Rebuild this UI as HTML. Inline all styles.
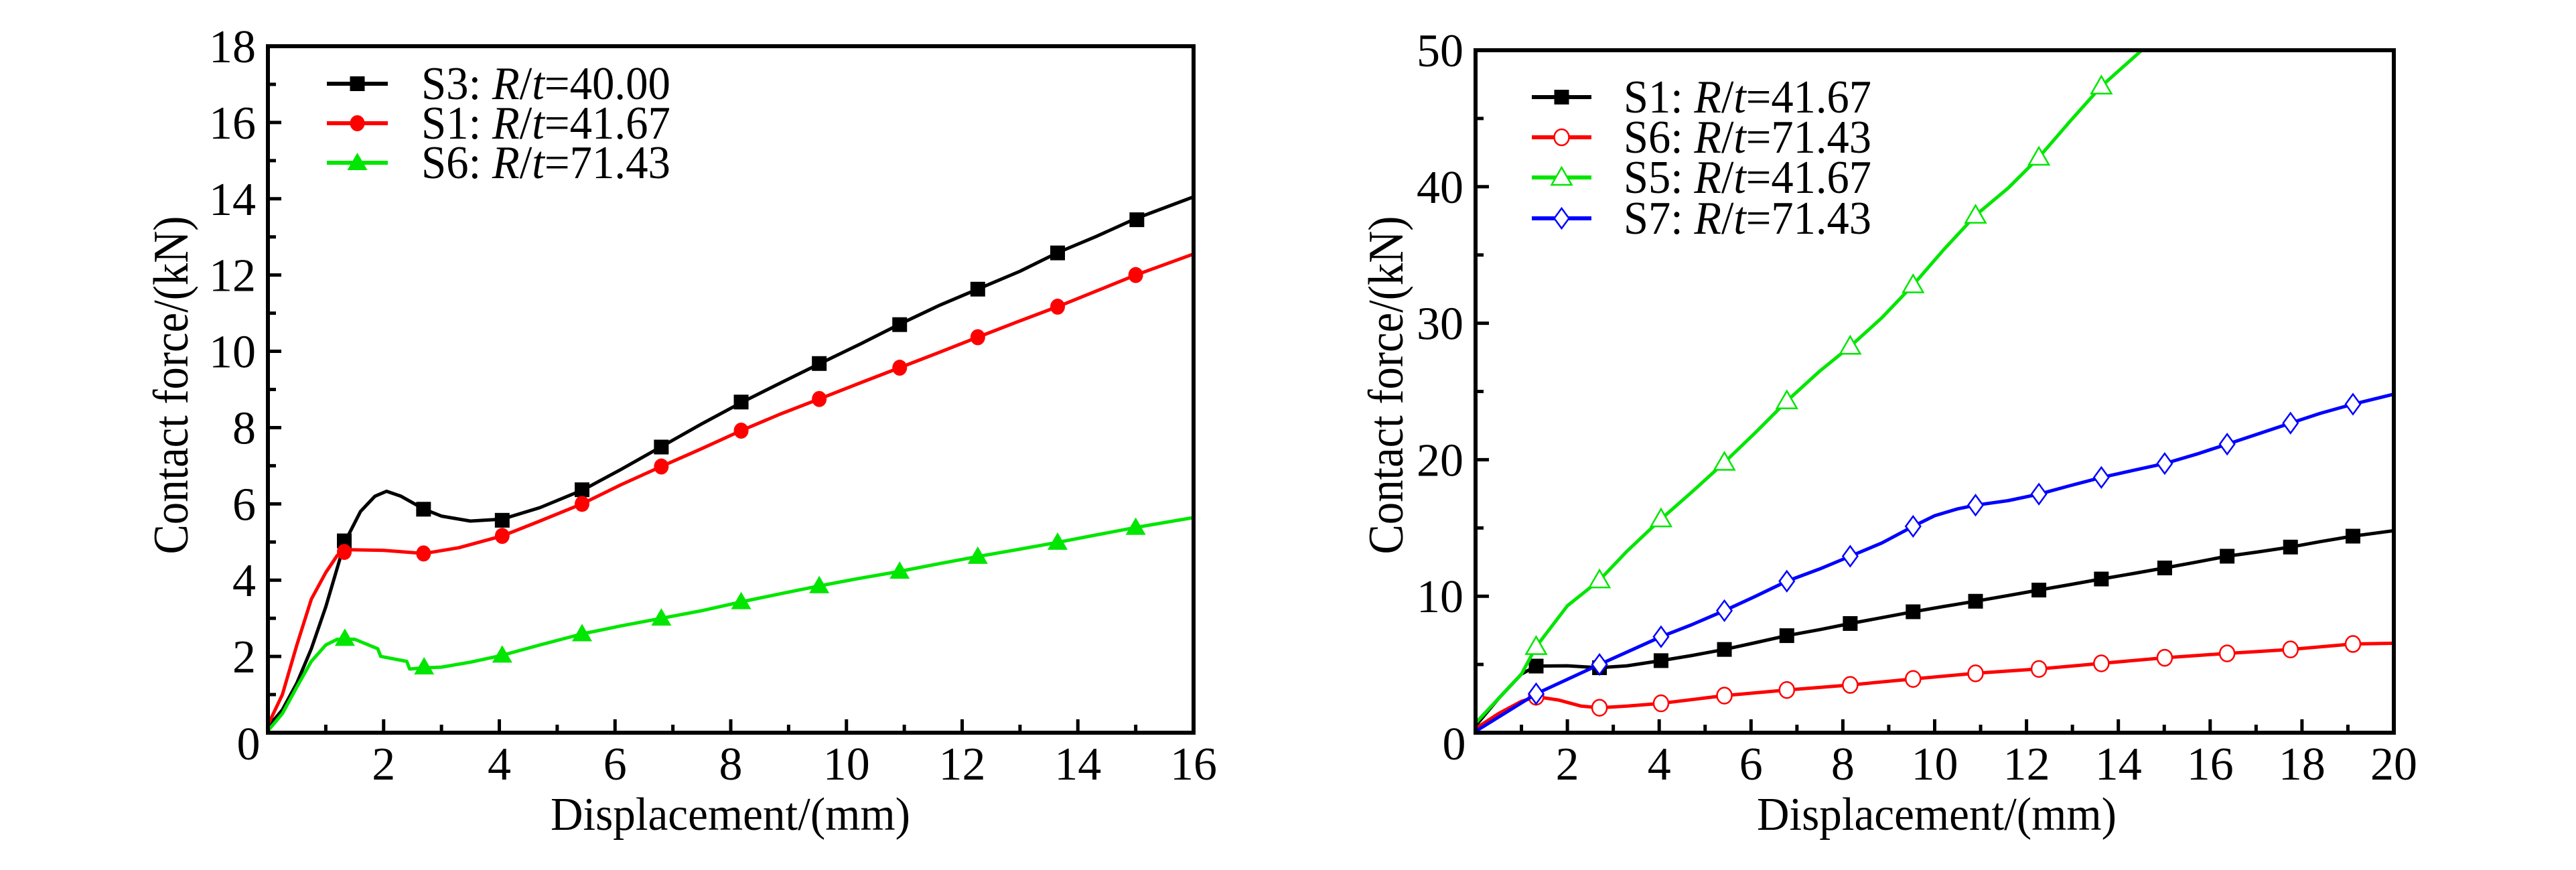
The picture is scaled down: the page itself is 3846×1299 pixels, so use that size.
<!DOCTYPE html>
<html><head><meta charset="utf-8">
<style>
html,body{margin:0;padding:0;background:#fff;}
svg{display:block;font-family:"Liberation Serif","DejaVu Serif","Noto Serif CJK SC",serif;}
svg text, svg tspan{font-family:"Liberation Serif","DejaVu Serif","Noto Serif CJK SC",serif !important;fill:#000;}
</style></head>
<body>
<svg id="fig" xmlns="http://www.w3.org/2000/svg" width="3846" height="1299" viewBox="0 0 3846 1299">
<rect x="0" y="0" width="3846" height="1299" fill="#fff"/>
<g id="left"></g>
<g id="right"></g>
</svg>
<script>
// ---------- LEFT CHART DATA ----------
const L_s3X = [0,0.25,0.5,0.75,1.0,1.33,1.6,1.85,2.05,2.3,2.7,3.0,3.5,4.05,4.7,5.45,6.1,6.8,7.5,8.2,8.9,9.57,10.25,10.93,11.6,12.3,13.0,13.67,14.3,15.0,16];
const L_s3Y = [0.15,0.6,1.3,2.2,3.3,5.0,5.8,6.2,6.33,6.2,5.86,5.68,5.55,5.6,5.9,6.37,6.9,7.5,8.1,8.67,9.2,9.7,10.2,10.72,11.2,11.65,12.1,12.6,13.0,13.48,14.05];
const L_s3MX = [1.32,2.69,4.05,5.43,6.8,8.18,9.53,10.92,12.27,13.65,15.02];
const L_s3MY = [5.03,5.86,5.57,6.37,7.49,8.67,9.68,10.7,11.63,12.58,13.45];
const L_s1X = [0,0.25,0.5,0.75,1.0,1.2,1.4,2.0,2.7,3.3,4.05,4.7,5.43,6.1,6.8,7.5,8.18,8.85,9.53,10.2,10.92,11.6,12.27,12.95,13.65,14.3,15.0,16];
const L_s1Y = [0.2,1.0,2.3,3.5,4.2,4.65,4.8,4.78,4.7,4.85,5.16,5.55,6.0,6.5,6.98,7.45,7.92,8.35,8.75,9.15,9.57,9.97,10.37,10.77,11.17,11.57,12.0,12.55];
const L_s1MX = [1.32,2.69,4.05,5.43,6.8,8.18,9.53,10.92,12.27,13.65,15.0];
const L_s1MY = [4.74,4.7,5.16,6.0,6.98,7.92,8.75,9.57,10.37,11.17,12.0];
const L_s6X = [0,0.25,0.5,0.75,1.0,1.2,1.5,1.9,1.95,2.4,2.45,2.7,3.0,3.5,4.05,4.7,5.43,6.1,6.8,7.5,8.18,8.85,9.53,10.2,10.92,11.6,12.27,12.95,13.65,14.3,15.0,16];
const L_s6Y = [0.05,0.5,1.2,1.87,2.3,2.45,2.45,2.2,2.0,1.87,1.67,1.7,1.72,1.85,2.03,2.3,2.59,2.8,3.0,3.2,3.43,3.64,3.85,4.04,4.23,4.43,4.62,4.8,4.99,5.18,5.38,5.64];
const L_s6MX = [1.33,2.7,4.05,5.43,6.8,8.18,9.53,10.92,12.27,13.65,15.0];
const L_s6MY = [2.47,1.72,2.03,2.59,3.0,3.43,3.85,4.23,4.62,4.99,5.38];
const L_xTicks = ["2","4","6","8","10","12","14","16"];
const L_yTicks = ["2","4","6","8","10","12","14","16","18"];
const L_legend = [["S3: ","40.00"],["S1: ","41.67"],["S6: ","71.43"]];

// ---------- RIGHT CHART DATA ----------
const R_s1X = [0,0.5,1.0,1.32,2.0,2.7,3.3,4.04,4.7,5.42,6.1,6.78,7.5,8.16,8.85,9.53,10.2,10.89,11.6,12.27,12.95,13.63,14.3,15.01,15.7,16.37,17.05,17.75,18.4,19.11,20];
const R_s1Y = [0.5,2.5,4.3,4.88,4.9,4.76,4.9,5.28,5.65,6.1,6.6,7.11,7.55,8.0,8.43,8.86,9.25,9.63,10.05,10.45,10.85,11.26,11.65,12.07,12.5,12.93,13.25,13.6,14.0,14.4,14.8];
const R_s1MX = [1.32,2.70,4.04,5.42,6.78,8.16,9.53,10.89,12.27,13.63,15.01,16.37,17.75,19.11];
const R_s1MY = [4.88,4.76,5.28,6.1,7.11,8.0,8.86,9.63,10.45,11.26,12.07,12.93,13.6,14.4];
const R_s6X = [0,0.5,1.0,1.32,1.8,2.3,2.7,3.3,4.04,5.42,6.78,8.16,9.53,10.89,12.27,13.63,15.01,16.37,17.75,19.11,20];
const R_s6Y = [0.3,1.4,2.3,2.64,2.4,1.95,1.83,1.95,2.15,2.72,3.13,3.5,3.94,4.35,4.67,5.08,5.49,5.81,6.1,6.5,6.55];
const R_s6MX = [1.32,2.70,4.04,5.42,6.78,8.16,9.53,10.89,12.27,13.63,15.01,16.37,17.75,19.11];
const R_s6MY = [2.64,1.83,2.15,2.72,3.13,3.5,3.94,4.35,4.67,5.08,5.49,5.81,6.1,6.5];
const R_s5X = [0,0.5,1.0,1.32,2.0,2.7,3.3,4.04,4.7,5.42,6.1,6.78,7.5,8.16,8.85,9.53,10.2,10.89,11.6,12.27,12.95,13.63,14.51];
const R_s5Y = [0.7,2.5,4.3,6.3,9.3,11.18,13.3,15.65,17.6,19.8,22.0,24.3,26.5,28.3,30.4,32.8,35.4,37.9,39.9,42.15,44.8,47.36,50];
const R_s5MX = [1.32,2.70,4.04,5.42,6.78,8.16,9.53,10.89,12.27,13.63];
const R_s5MY = [6.3,11.18,15.65,19.8,24.3,28.3,32.8,37.9,42.15,47.36];
const R_s7X = [0,1.32,2.7,4.04,4.7,5.42,6.1,6.78,7.5,8.16,8.85,9.53,10.0,10.5,10.89,11.6,12.27,12.95,13.63,14.3,15.01,15.7,16.37,17.05,17.75,18.4,19.11,20];
const R_s7Y = [0.1,2.85,5.0,7.03,7.9,8.94,10.0,11.1,12.0,12.93,13.9,15.12,15.9,16.4,16.67,17.0,17.48,18.1,18.7,19.2,19.72,20.4,21.14,21.9,22.68,23.4,24.07,24.8];
const R_s7MX = [1.32,2.70,4.04,5.42,6.78,8.16,9.53,10.89,12.27,13.63,15.01,16.37,17.75,19.11];
const R_s7MY = [2.85,5.0,7.03,8.94,11.1,12.93,15.12,16.67,17.48,18.7,19.72,21.14,22.68,24.07];
const R_xTicks = ["2","4","6","8","10","12","14","16","18","20"];
const R_yTicks = ["10","20","30","40","50"];
const R_legend = [["S1: ","41.67"],["S6: ","71.43"],["S5: ","41.67"],["S7: ","71.43"]];

const NS = "http://www.w3.org/2000/svg";
const FONT = "'Liberation Serif', 'DejaVu Serif', 'Noto Serif CJK SC', serif";
function mk(tag, attrs, parent){
  const e = document.createElementNS(NS, tag);
  for (const k in attrs) e.setAttribute(k, attrs[k]);
  if (tag === "text") e.style.fontFamily = FONT;
  parent.appendChild(e);
  return e;
}
function marker(g, type, cx, cy, color, filled){
  let e;
  const fill = filled ? color : "#fff";
  const sw = filled ? 0 : 2.5;
  if (type === "square") {
    e = mk("rect", {x:cx-11, y:cy-11, width:22, height:22, fill:fill, stroke:color, "stroke-width":sw}, g);
  } else if (type === "circle") {
    e = mk("ellipse", {cx:cx, cy:cy, rx:11, ry:12, fill:fill, stroke:color, "stroke-width":sw}, g);
  } else if (type === "triangle") {
    e = mk("polygon", {points:`${cx},${cy-15} ${cx+15},${cy+11} ${cx-15},${cy+11}`, fill:fill, stroke:color, "stroke-width":sw}, g);
  } else {
    e = mk("polygon", {points:`${cx},${cy-15} ${cx+11},${cy} ${cx},${cy+15} ${cx-11},${cy}`, fill:fill, stroke:color, "stroke-width":sw}, g);
  }
  
  
  return e;
}

function drawChart(g, cfg){
  const sx = v => cfg.x0 + (v - cfg.xmin) / (cfg.xmax - cfg.xmin) * (cfg.x1 - cfg.x0);
  const sy = v => cfg.y0 - (v - cfg.ymin) / (cfg.ymax - cfg.ymin) * (cfg.y0 - cfg.y1);
  const clipId = cfg.id + "-clip";
  const defs = mk("defs", {}, g);
  const cp = mk("clipPath", {id:clipId}, defs);
  mk("rect", {x:cfg.x0, y:cfg.y1, width:cfg.x1-cfg.x0, height:cfg.y0-cfg.y1}, cp);

  const tg = mk("g", {}, g);
  
  
  for (let v = cfg.xmin + cfg.xMinor; v < cfg.xmax - 1e-9; v += cfg.xMinor) {
    const major = Math.abs(v / cfg.xMajor - Math.round(v / cfg.xMajor)) < 1e-6;
    const len = major ? 20 : 12;
    mk("line", {x1:sx(v), x2:sx(v), y1:cfg.y0, y2:cfg.y0-len, stroke:"#000", "stroke-width":5}, tg);
  }
  for (let v = cfg.ymin + cfg.yMinor; v < cfg.ymax - 1e-9; v += cfg.yMinor) {
    const major = Math.abs(v / cfg.yMajor - Math.round(v / cfg.yMajor)) < 1e-6;
    const len = major ? 20 : 12;
    mk("line", {x1:cfg.x0, x2:cfg.x0+len, y1:sy(v), y2:sy(v), stroke:"#000", "stroke-width":5}, tg);
  }

  cfg.series.forEach(s => {
    const sg = mk("g", {"clip-path":`url(#${clipId})`}, g);
    
    
    const pts = s.x.map((xv, i) => `${sx(xv).toFixed(1)},${sy(s.y[i]).toFixed(1)}`).join(" ");
    const pl = mk("polyline", {points:pts, fill:"none", stroke:s.color, "stroke-width":5, "stroke-linejoin":"round", "stroke-linecap":"round"}, sg);
    
    
    s.mx.forEach((xv, i) => marker(sg, s.marker, sx(xv), sy(s.my[i]), s.color, s.filled));
  });

  const fr = mk("rect", {x:cfg.x0, y:cfg.y1, width:cfg.x1-cfg.x0, height:cfg.y0-cfg.y1, fill:"none", stroke:"#000", "stroke-width":6}, g);
  
  

  cfg.xTicks.forEach(t => {
    const e = mk("text", {x:sx(parseFloat(t)), y:cfg.y0+70, "font-size":70, "text-anchor":"middle"}, g);
    e.textContent = t;
    
    
  });
  cfg.yTicks.forEach(t => {
    const e = mk("text", {x:cfg.x0-18, y:sy(parseFloat(t))+24, "font-size":70, "text-anchor":"end"}, g);
    e.textContent = t;
    
    
  });
  const z = mk("text", {x:cfg.zeroX, y:cfg.y0+40, "font-size":70, "text-anchor":"middle"}, g);
  z.textContent = "0";
  
  

  const xt = mk("text", {x:cfg.xTitleX, y:1239, "font-size":70, textLength:537, lengthAdjust:"spacingAndGlyphs"}, g);
  xt.textContent = "Displacement/(mm)";
  
  
  const yt = mk("text", {x:0, y:0, "font-size":74, textLength:505, lengthAdjust:"spacingAndGlyphs", "text-anchor":"middle",
    transform:`translate(${cfg.yTitleX},575) rotate(-90)`}, g);
  yt.textContent = "Contact force/(kN)";
  
  

  const lg = mk("g", {}, g);
  
  
  cfg.legend.forEach((lab, i) => {
    const s = cfg.series[i];
    const cy = cfg.legY[i];
    const eg = mk("g", {}, lg);
    
    
    mk("line", {x1:cfg.legX0, x2:cfg.legX1, y1:cy, y2:cy, stroke:s.color, "stroke-width":6}, eg);
    marker(eg, s.marker, (cfg.legX0+cfg.legX1)/2, cy, s.color, s.filled);
    const t = mk("text", {x:cfg.legTX, y:cy+23, "font-size":70, textLength:cfg.legTW, lengthAdjust:"spacingAndGlyphs"}, eg);
    const a = document.createElementNS(NS, "tspan"); a.textContent = lab[0]; t.appendChild(a);
    const b = document.createElementNS(NS, "tspan"); b.setAttribute("font-style","italic"); b.textContent = "R"; t.appendChild(b);
    const c = document.createElementNS(NS, "tspan"); c.textContent = "/"; t.appendChild(c);
    const d = document.createElementNS(NS, "tspan"); d.setAttribute("font-style","italic"); d.textContent = "t"; t.appendChild(d);
    const f = document.createElementNS(NS, "tspan"); f.textContent = "=" + lab[1]; t.appendChild(f);
  });
}

drawChart(document.getElementById("left"), {
  id:"L", x0:400, x1:1782, y0:1094, y1:69, xmin:0, xmax:16, ymin:0, ymax:18,
  xMinor:1, xMajor:2, yMinor:1, yMajor:2, xTicks:L_xTicks, yTicks:L_yTicks, zeroX:371,
  xTitleX:822, yTitleX:280,
  legend:L_legend, legY:[125,184,243], legX0:488, legX1:579, legTX:629, legTW:372,
  series:[
    {name:"series-s3", x:L_s3X, y:L_s3Y, mx:L_s3MX, my:L_s3MY, color:"#000000", marker:"square", filled:true},
    {name:"series-s1", x:L_s1X, y:L_s1Y, mx:L_s1MX, my:L_s1MY, color:"#ff0000", marker:"circle", filled:true},
    {name:"series-s6", x:L_s6X, y:L_s6Y, mx:L_s6MX, my:L_s6MY, color:"#00e600", marker:"triangle", filled:true}
  ]
});
drawChart(document.getElementById("right"), {
  id:"R", x0:2203, x1:3574, y0:1094, y1:75, xmin:0, xmax:20, ymin:0, ymax:50,
  xMinor:1, xMajor:2, yMinor:5, yMajor:10, xTicks:R_xTicks, yTicks:R_yTicks, zeroX:2171,
  xTitleX:2623, yTitleX:2094,
  legend:R_legend, legY:[145,205,265,326], legX0:2287, legX1:2376, legTX:2424, legTW:370,
  series:[
    {name:"series-s1", x:R_s1X, y:R_s1Y, mx:R_s1MX, my:R_s1MY, color:"#000000", marker:"square", filled:true},
    {name:"series-s6", x:R_s6X, y:R_s6Y, mx:R_s6MX, my:R_s6MY, color:"#ff0000", marker:"circle", filled:false},
    {name:"series-s5", x:R_s5X, y:R_s5Y, mx:R_s5MX, my:R_s5MY, color:"#00e600", marker:"triangle", filled:false},
    {name:"series-s7", x:R_s7X, y:R_s7Y, mx:R_s7MX, my:R_s7MY, color:"#0000ff", marker:"diamond", filled:false}
  ]
});
</script>
</body></html>
